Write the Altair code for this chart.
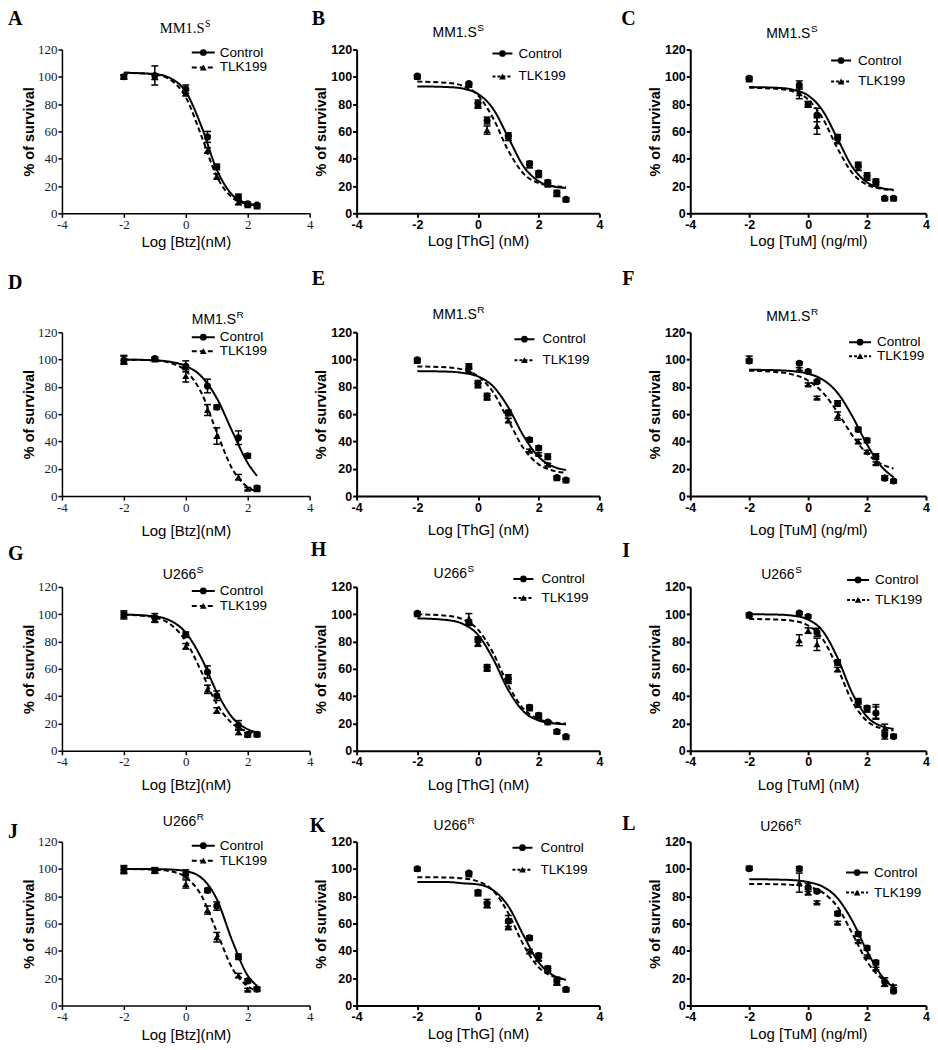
import altair as alt
import pandas as pd

# ---------------- data ----------------
X_BTZ = [-2, -1, 0, 0.7, 1, 1.7, 2, 2.3]
X_DRUG = [-2, -0.3, 0, 0.3, 1, 1.7, 2, 2.3, 2.6, 2.9]
FIT_X_BTZ = [-2, -1, -0.5, 0, 0.5, 1, 1.5, 2, 2.3]
FIT_X_DRUG = [-2, -1, -0.5, 0, 0.5, 1, 1.5, 2, 2.5, 2.9]

SERIES = ["Control", "TLK199"]
LETTERS = ["A", "B", "C", "D", "E", "F", "G", "H", "I", "J", "K", "L"]
CELL_LINES = ["MM1.S", "MM1.S", "U266", "U266"]
CELL_SUP = ["S", "R", "S", "R"]
X_TITLES = [
    ["Log [Btz](nM)", "Log [ThG] (nM)", "Log [TuM] (ng/ml)"],
    ["Log [Btz](nM)", "Log [ThG] (nM)", "Log [TuM] (ng/ml)"],
    ["Log [Btz](nM)", "Log [ThG] (nM)", "Log [TuM] (nM)"],
    ["Log [Btz](nM)", "Log [ThG] (nM)", "Log [TuM] (ng/ml)"],
]
Y_TITLE = "% of survival"
X_TICKS = [-4, -2, 0, 2, 4]
Y_TICKS = [0, 20, 40, 60, 80, 100, 120]

# Panel A  (MM1.S^S, Btz)
A_CTRL = [100, 101, 91, 56, 34, 12, 7, 6]
A_CTRL_ERR = [1.5, 7, 3, 4, 2, 2, 1, 1]
A_TLK = [100, 100, 88, 46, 27, 8, 6, 5]
A_TLK_ERR = [1.5, 2, 2, 2, 2, 1.5, 1, 1]
A_CTRL_FIT = [103, 102, 99, 89, 64, 32, 13.5, 7.3, 6]
A_TLK_FIT = [103, 101.7, 97.9, 85, 57, 27, 11.6, 6.7, 5.8]

# Panel B  (MM1.S^S, ThG)
B_CTRL = [100.5, 95, 80.5, 68, 57, 36.5, 29.6, 22.7, 14.8, 10.3]
B_CTRL_ERR = [1, 1, 2.5, 2.5, 2, 1.5, 1.5, 1.5, 2, 1]
B_TLK = [100, 94, 79, 61, 55, 35, 28, 21, 14, 10]
B_TLK_ERR = [1, 1, 2, 3, 1.5, 1.5, 1, 1, 1.5, 1]
B_CTRL_FIT = [93, 92.5, 91.4, 87.5, 76.5, 55.5, 34.5, 23.5, 19.6, 18.6]
B_TLK_FIT = [96.5, 95.6, 93.4, 86.4, 69.6, 45.9, 29.1, 22.1, 19.9, 19.3]

# Panel C  (MM1.S^S, TuM)
C_CTRL = [99, 94, 79.7, 72, 55.7, 35.4, 27.7, 23.5, 11, 11]
C_CTRL_ERR = [1, 3, 2, 5, 2, 2, 2, 1.5, 1, 1]
C_TLK = [98, 88, 80, 64, 53, 33, 26, 22, 11, 11]
C_TLK_ERR = [1, 4, 2, 6, 2, 1.5, 1.5, 1, 1, 1]
C_CTRL_FIT = [92.5, 91.9, 90.5, 86.3, 75.0, 54.5, 34.0, 22.7, 18.5, 17.3]
C_TLK_FIT = [92, 91.1, 89.2, 83.4, 69.3, 47.5, 29.5, 20.9, 17.9, 17.0]

# Panel D  (MM1.S^R, Btz)
D_CTRL = [99.5, 100.7, 95, 80.6, 65, 42.7, 29.5, 5.8]
D_CTRL_ERR = [3, 1, 4, 5, 1.5, 5, 1.5, 1.5]
D_TLK = [100, 100, 88, 63, 44, 13.8, 5.3, 5]
D_TLK_ERR = [3, 1, 4.5, 4, 6, 2, 1, 1]
D_CTRL_FIT = [99.9, 99.4, 98.3, 95.3, 87.7, 71.7, 47.4, 24.2, 14.7]
D_TLK_FIT = [100, 99.3, 97.5, 91.7, 75.8, 46.8, 19.9, 6.5, 3.2]

# Panel E  (MM1.S^R, ThG)
E_CTRL = [99.8, 94.9, 82.6, 73.2, 60.9, 41.2, 35.2, 28.8, 13.6, 11.8]
E_CTRL_ERR = [1, 2, 2, 2, 2, 1.5, 1.5, 2, 1, 1]
E_TLK = [99, 92, 81, 72, 55.4, 33.3, 30.8, 23, 13, 11.5]
E_TLK_ERR = [1, 1.5, 1.5, 1.5, 1.5, 1, 1, 1, 1, 1]
E_CTRL_FIT = [91.5, 91.1, 90.2, 87.6, 80.3, 64.9, 44.1, 28.7, 21.4, 19.1]
E_TLK_FIT = [94.9, 94.2, 92.6, 87.8, 76.0, 55.5, 35.0, 23.2, 18.4, 17.0]

# Panel F  (MM1.S^R, TuM)
F_CTRL = [99, 97.3, 91.2, 83.8, 67.8, 48.8, 40.7, 29, 13, 11]
F_CTRL_ERR = [1.5, 1, 1, 1, 2, 1.5, 1.5, 2, 1.5, 1]
F_TLK = [101, 93, 81.8, 72, 58.6, 40, 32.5, 24, 14, 11]
F_TLK_ERR = [1.5, 1, 1, 1, 3, 1.5, 1, 1, 1, 1]
F_CTRL_FIT = [92.5, 92.1, 91.4, 89.6, 85.2, 75.5, 58.4, 37.7, 21.4, 13.8]
F_TLK_FIT = [91.8, 90.7, 88.9, 84.6, 75.8, 61.3, 44.4, 31.0, 23.3, 20.1]

# Panel G  (U266^S, Btz)
G_CTRL = [99.5, 97.5, 85, 57.7, 40.3, 18.6, 11.8, 12]
G_CTRL_ERR = [3, 3, 2, 4.5, 3.5, 3.5, 1.5, 1.5]
G_TLK = [99.5, 96, 76.5, 45, 29.5, 13.8, 12, 12]
G_TLK_ERR = [2, 2, 2, 3, 2, 2, 1, 1]
G_CTRL_FIT = [99.8, 98.4, 95.3, 86.5, 68.0, 43.0, 24.4, 15.7, 13.4]
G_TLK_FIT = [99.8, 97.6, 92.7, 80.4, 58.1, 34.3, 20.0, 14.0, 12.6]

# Panel H  (U266^S, ThG)
H_CTRL = [100.7, 93.8, 81.4, 61.1, 53.2, 31.9, 26, 21, 14.1, 10.4]
H_CTRL_ERR = [1, 2, 2, 2, 2.5, 1.5, 1.5, 1, 1, 1]
H_TLK = [100, 97, 79, 60, 51, 31, 25, 21, 14, 10]
H_TLK_ERR = [1, 3.5, 2.5, 1.5, 1.5, 1, 1, 1, 1, 1]
H_CTRL_FIT = [97, 95.7, 92.9, 84.9, 67.2, 44.4, 28.8, 22.2, 20.0, 19.4]
H_TLK_FIT = [100, 98.8, 96.3, 88.7, 71.6, 47.9, 30.8, 23.2, 20.7, 19.9]

# Panel I  (U266^S, TuM)
I_CTRL = [99.6, 100.8, 98.3, 86.7, 64.6, 36.2, 31.3, 27.6, 11.6, 10.4]
I_CTRL_ERR = [1, 1, 1, 3, 2, 2, 1.5, 4.5, 3, 1]
I_TLK = [99, 81, 88, 78, 59.6, 33.8, 30, 28.8, 16.5, 11]
I_TLK_ERR = [1, 4, 2, 4.5, 1.5, 1.5, 1.5, 5, 3, 1]
I_CTRL_FIT = [100, 99.7, 98.9, 96.1, 87.6, 68.0, 42.1, 24.9, 18.0, 16.1]
I_TLK_FIT = [96.5, 96.1, 95.1, 91.7, 81.7, 60.5, 36.0, 21.7, 16.3, 14.9]

# Panel J  (U266^R, Btz)
J_CTRL = [99.5, 98.8, 96.4, 84.3, 72.8, 35.7, 18, 12]
J_CTRL_ERR = [3, 2, 3, 1.5, 3, 2, 1.5, 1.5]
J_TLK = [99.5, 99, 89, 69.9, 50, 22, 11.6, 12]
J_TLK_ERR = [2, 2, 3, 3, 3.5, 1.5, 1, 1]
J_CTRL_FIT = [100, 99.9, 99.6, 98.4, 93.6, 77.9, 47.4, 21.9, 14.4]
J_TLK_FIT = [100, 99.5, 98.3, 93.9, 80.7, 54.0, 27.3, 14.1, 10.8]

# Panel K  (U266^R, ThG)
K_CTRL = [100.2, 97, 82.9, 74.7, 61.9, 49.5, 36.6, 27.2, 17.8, 11.9]
K_CTRL_ERR = [1, 1, 1.5, 3, 4, 1.5, 1.5, 1.5, 3, 1]
K_TLK = [100, 96, 82, 73.7, 58, 39.6, 34, 26, 17.3, 11.5]
K_TLK_ERR = [1, 1, 1.5, 2, 2.5, 1.5, 1, 1, 2, 1]
K_CTRL_FIT = [90.5, 90.4, 89.5, 88.7, 84.4, 72.7, 51.4, 31.6, 21.8, 18.8]
K_TLK_FIT = [94, 93.7, 93.1, 90.9, 84.1, 67.6, 44.4, 27.9, 21.1, 19.1]

# Panel L  (U266^R, TuM)
L_CTRL = [100.2, 100.2, 86.6, 83.6, 67.3, 52.4, 42, 31.4, 17.3, 10.4]
L_CTRL_ERR = [1, 1.5, 3, 1, 1.5, 1.5, 1.5, 1.5, 3, 1]
L_TLK = [101, 90, 83, 75.5, 60.6, 47, 36, 27, 16, 14]
L_TLK_ERR = [1, 7, 2, 1, 1, 1, 1, 1, 2, 1]
L_CTRL_FIT = [92.5, 92.2, 91.8, 90.4, 87.0, 78.5, 61.9, 39.8, 21.6, 13.1]
L_TLK_FIT = [89, 88.8, 88.3, 86.9, 82.7, 72.1, 52.7, 32.2, 19.8, 15.3]

PANEL_DATA = {
    "A": (A_CTRL, A_CTRL_ERR, A_TLK, A_TLK_ERR, A_CTRL_FIT, A_TLK_FIT),
    "B": (B_CTRL, B_CTRL_ERR, B_TLK, B_TLK_ERR, B_CTRL_FIT, B_TLK_FIT),
    "C": (C_CTRL, C_CTRL_ERR, C_TLK, C_TLK_ERR, C_CTRL_FIT, C_TLK_FIT),
    "D": (D_CTRL, D_CTRL_ERR, D_TLK, D_TLK_ERR, D_CTRL_FIT, D_TLK_FIT),
    "E": (E_CTRL, E_CTRL_ERR, E_TLK, E_TLK_ERR, E_CTRL_FIT, E_TLK_FIT),
    "F": (F_CTRL, F_CTRL_ERR, F_TLK, F_TLK_ERR, F_CTRL_FIT, F_TLK_FIT),
    "G": (G_CTRL, G_CTRL_ERR, G_TLK, G_TLK_ERR, G_CTRL_FIT, G_TLK_FIT),
    "H": (H_CTRL, H_CTRL_ERR, H_TLK, H_TLK_ERR, H_CTRL_FIT, H_TLK_FIT),
    "I": (I_CTRL, I_CTRL_ERR, I_TLK, I_TLK_ERR, I_CTRL_FIT, I_TLK_FIT),
    "J": (J_CTRL, J_CTRL_ERR, J_TLK, J_TLK_ERR, J_CTRL_FIT, J_TLK_FIT),
    "K": (K_CTRL, K_CTRL_ERR, K_TLK, K_TLK_ERR, K_CTRL_FIT, K_TLK_FIT),
    "L": (L_CTRL, L_CTRL_ERR, L_TLK, L_TLK_ERR, L_CTRL_FIT, L_TLK_FIT),
}

# ---------------- layout (pixels) ----------------
COL_PLOT_W = [248, 243, 236]
COL_CELL_W = [248, 287, 236]
PLOT_H = 164
ROW_TOP_PAD = [0, 28, 0, 0]
COL_SPACING = 47
ROW_SPACING = 91
X_TITLE_PAD = [3, 9.5, 9, 4]
LETTER_XY = {"A": (-54, -25), "B": (-45, -25), "C": (-69, -25),
             "D": (-54, -43), "E": (-45, -47), "F": (-68, -47),
             "G": (-54, -27), "H": (-46, -31), "I": (-68, -30),
             "J": (-54, -4), "K": (-47, -10), "L": (-68, -12)}
TITLE_XY = {"A": (98, -17), "B": (76, -13), "C": (76, -12),
            "D": (130, -8), "E": (76, -13), "F": (76, -11),
            "G": (101, -8), "H": (77, -9), "I": (71, -8),
            "J": (101, -16), "K": (77, -12), "L": (70, -11)}
LEGEND_XY = {"A": (130, 153, 158, 3, 18), "B": (136, 156, 162, 4, 27),
             "C": (141, 161, 168, 11, 32), "D": (130, 153, 158, 5, 19),
             "E": (158, 178, 186, 7, 28), "F": (159, 181, 187, 10, 24),
             "G": (130, 153, 158, 4, 19), "H": (157, 177, 185, -8, 11),
             "I": (157, 179, 185, -7, 13), "J": (130, 153, 158, 4, 19),
             "K": (156, 176, 184, 6, 28), "L": (156, 178, 184, 31, 51)}
SANS = "Liberation Sans"
SERIF = "Liberation Serif"


def text_layer(text, x, y, font, size, weight="normal", baseline="alphabetic", color="black"):
    return alt.Chart(pd.DataFrame({"t": [text]})).mark_text(
        align="left", baseline=baseline, font=font, fontSize=size,
        fontWeight=weight, color=color
    ).encode(x=alt.value(x), y=alt.value(y), text="t:N")


def build_panel(i):
    r, c = divmod(i, 3)
    key = LETTERS[i]
    ctrl, ctrl_err, tlk, tlk_err, ctrl_fit, tlk_fit = PANEL_DATA[key]
    xs = X_BTZ if c == 0 else X_DRUG
    fx = FIT_X_BTZ if c == 0 else FIT_X_DRUG
    pad = ROW_TOP_PAD[r]
    w_plot = COL_PLOT_W[c]
    w_cell = COL_CELL_W[c]
    h_cell = PLOT_H + pad
    serif = c == 0
    tick_font = SERIF if serif else SANS
    tick_weight = "normal" if serif else "bold"
    tick_size = 13 if serif else 12.5
    tick_color = "#1a1a1a" if serif else "black"
    lw = 1.5 if serif else 2
    dash = [5, 3] if serif else [3, 2]

    n = len(xs)
    pts = pd.DataFrame({
        "x": xs + xs,
        "y": tlk + ctrl,
        "err": tlk_err + ctrl_err,
        "series": ["TLK199"] * n + ["Control"] * n,
    })
    pts["lo"] = pts["y"] - pts["err"]
    pts["hi"] = pts["y"] + pts["err"]
    m = len(fx)
    fits = pd.DataFrame({
        "x": fx + fx,
        "y": ctrl_fit + tlk_fit,
        "series": ["Control"] * m + ["TLK199"] * m,
    })

    xscale = alt.Scale(domain=[-4, 4], range=[0, w_plot], nice=False, zero=False)
    yscale = alt.Scale(domain=[0, 120], range=[h_cell, pad], nice=False, zero=False)
    xaxis = alt.Axis(
        values=X_TICKS, title=X_TITLES[r][c], grid=False, tickSize=4,
        labelPadding=1, titlePadding=X_TITLE_PAD[r], domainWidth=lw,
        tickWidth=lw, domainColor="black", tickColor="black",
        labelFont=tick_font, labelFontSize=tick_size, labelFontWeight=tick_weight,
        labelColor=tick_color, labelFlush=False, labelOverlap=False,
        labelExpr="datum.value", titleFont=SANS, titleFontSize=15,
        titleFontWeight="normal", titleColor="black",
    )
    yaxis = alt.Axis(
        values=Y_TICKS, title=Y_TITLE, grid=False, tickSize=4,
        labelPadding=1, titlePadding=1 if serif else 2, domainWidth=lw,
        tickWidth=lw, domainColor="black", tickColor="black",
        labelFont=tick_font, labelFontSize=tick_size, labelFontWeight=tick_weight,
        labelColor=tick_color, labelFlush=False, labelOverlap=False,
        titleFont=SANS, titleFontSize=14.5, titleFontWeight="bold",
        titleColor="black",
    )
    X = alt.X("x:Q", scale=xscale, axis=xaxis)
    Y = alt.Y("y:Q", scale=yscale, axis=yaxis)
    Ylo = alt.Y("lo:Q", scale=yscale, axis=yaxis)
    Yhi = alt.Y("hi:Q", scale=yscale, axis=yaxis)

    shape_enc = alt.Shape("series:N", scale=alt.Scale(domain=SERIES, range=["circle", "triangle-up"]), legend=None)
    dash_enc = alt.StrokeDash("series:N", scale=alt.Scale(domain=SERIES, range=[[1, 0], dash]), legend=None)

    fit_layer = alt.Chart(fits).mark_line(
        interpolate="monotone", color="black", strokeWidth=2
    ).encode(x=X, y=Y, strokeDash=dash_enc)
    err_layer = alt.Chart(pts).mark_rule(color="black", strokeWidth=1.5).encode(
        x=X, y=Ylo, y2="hi:Q")
    cap_lo = alt.Chart(pts).mark_tick(orient="horizontal", size=7, thickness=1.5, color="black", opacity=1).encode(
        x=X, y=Ylo)
    cap_hi = alt.Chart(pts).mark_tick(orient="horizontal", size=7, thickness=1.5, color="black", opacity=1).encode(
        x=X, y=Yhi)
    pt_layer = alt.Chart(pts).mark_point(filled=True, size=50, color="black", opacity=1).encode(
        x=X, y=Y, shape=shape_enc)

    layers = [fit_layer, err_layer, cap_lo, cap_hi, pt_layer]

    # panel letter
    lx, ly = LETTER_XY[key]
    layers.append(text_layer(key, lx, pad + ly, SERIF, 20, "bold"))

    # panel title with superscript
    tx, ty = TITLE_XY[key]
    name = CELL_LINES[r]
    if key == "A":
        tfont, tsize, tw = SERIF, 14.5, 44.7
    else:
        tfont, tsize = SANS, 14
        tw = 44.3 if name == "MM1.S" else 33.5
    layers.append(text_layer(name, tx, pad + ty, tfont, tsize))
    layers.append(text_layer(CELL_SUP[r], tx + tw + 0.5, pad + ty - 6, tfont, 10))

    # legend
    x1, x2, xt, y1, y2 = LEGEND_XY[key]
    for s, yy, shp, dsh in zip(SERIES, (y1, y2), ("circle", "triangle-up"), ([1, 0], dash)):
        src = pd.DataFrame({"t": [s]})
        layers.append(alt.Chart(src).mark_rule(color="black", strokeWidth=2, strokeDash=dsh).encode(
            x=alt.value(x1), x2=alt.value(x2), y=alt.value(pad + yy)))
        layers.append(alt.Chart(src).mark_point(shape=shp, filled=True, size=45, color="black", opacity=1).encode(
            x=alt.value((x1 + x2) / 2), y=alt.value(pad + yy)))
        layers.append(text_layer(s, xt, pad + yy, SANS, 13.5, baseline="middle"))

    return alt.layer(*layers).properties(width=w_cell, height=h_cell)


panels = [build_panel(i) for i in range(12)]

chart = alt.concat(
    *panels, columns=3,
    spacing={"row": ROW_SPACING, "column": COL_SPACING},
    align="each", bounds="flush",
).properties(padding=0, background="white").configure_view(strokeWidth=0)

chart.save("out.html", embed_options={"renderer": "svg", "actions": False})
